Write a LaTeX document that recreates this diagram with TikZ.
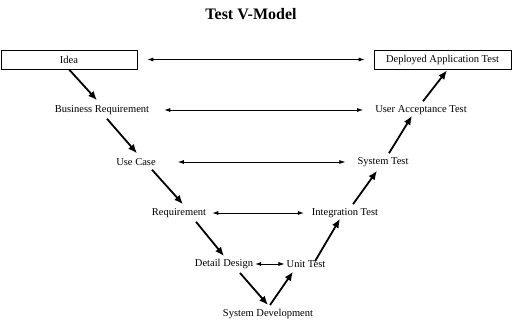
\documentclass[tikz,border=0pt]{standalone}
\usepackage{fontspec}
\setmainfont{Liberation Serif}
\usetikzlibrary{arrows.meta,calc}
\begin{document}
\begin{tikzpicture}[x=1pt,y=-1pt,
  lbl/.style={inner sep=2pt,font=\fontsize{10.5}{12}\selectfont},
  boxed/.style={draw,line width=0.8pt,minimum height=19pt,inner sep=0pt,font=\fontsize{10.5}{12}\selectfont},
  flow/.style={line width=1.8pt,-{Latex[length=9pt,width=7.5pt]}},
  link/.style={line width=0.7pt,{Latex[length=6pt,width=4pt]}-{Latex[length=6pt,width=4pt]}}]
\useasboundingbox (0,0) rectangle (512,322);
\node[font=\fontsize{16}{18}\bfseries\selectfont] (title) at (251,14) {Test V-Model};
\node[boxed,minimum width=136pt] (idea) at (69,59.5) {Idea};
\node[boxed,minimum width=137pt] (dep) at (442.5,59.5) {Deployed Application Test};
\node[lbl] (br) at (102,110) {Business Requirement};
\node[lbl] (uat) at (421,110) {User Acceptance Test};
\node[lbl] (uc) at (136,162) {Use Case};
\node[lbl] (st) at (383,162) {System Test};
\node[lbl] (req) at (179,213) {Requirement};
\node[lbl] (it) at (345,213) {Integration Test};
\node[lbl] (dd) at (224,264) {Detail Design};
\node[lbl] (ut) at (306,264) {Unit Test};
\node[lbl] (sd) at (268,314) {System Development};
% horizontal links
\draw[link,shorten <=10pt,shorten >=9pt] (idea.east) -- (dep.west);
\draw[link,shorten <=13pt,shorten >=10pt] (br.east) -- (uat.west);
\draw[link,shorten <=20pt,shorten >=10pt] (uc.east) -- (st.west);
\draw[link,shorten <=4pt,shorten >=6pt] (req.east) -- (it.west);
\draw[link,shorten <=0pt,shorten >=0pt] (dd.east) -- (ut.west);
% flow arrows
\draw[flow] (idea.south) -- ($(br.north)+(-5,-3)$);
\draw[flow] ($(br.south)+(5,2)$) -- ($(uc.north)+(1,-3)$);
\draw[flow] ($(uc.south)+(16,2)$) -- ($(req.north)+(4,-2)$);
\draw[flow] ($(req.south)+(17,2)$) -- ($(dd.north)+(0,-1)$);
\draw[flow] ($(dd.south)+(16,2)$) -- ($(sd.north)+(0,-2)$);
\draw[flow] ($(sd.north)+(2,-2)$) -- ($(ut.south)+(-13,2)$);
\draw[flow] ($(ut.north)+(9,3)$) -- ($(it.south)+(-5,-1)$);
\draw[flow] ($(it.north)+(8,-2)$) -- ($(st.south)+(-6,2)$);
\draw[flow] ($(st.north)+(6,-2)$) -- ($(uat.south)+(-9,-1)$);
\draw[flow] ($(uat.north)+(2,-2)$) -- ($(dep.south)+(4.5,1)$);
\end{tikzpicture}
\end{document}
